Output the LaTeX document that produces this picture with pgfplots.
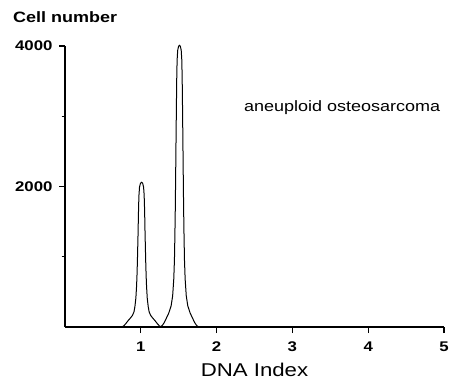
\documentclass[border=0pt]{standalone}
\usepackage{pgfplots}
\pgfplotsset{compat=1.18}
\usepackage{fontspec}
\setmainfont{Liberation Sans}[FakeStretch=1.2]

\begin{document}
\begin{tikzpicture}[x=1pt,y=1pt]
\useasboundingbox (0,0) rectangle (450,381);
\node[anchor=base west, inner sep=0pt, font=\bfseries\fontsize{15}{15}\selectfont] at (13,358) {Cell number};
\begin{axis}[
  at={(65pt,54pt)}, anchor=south west,
  scale only axis, width=379pt, height=281pt,
  xmin=0, xmax=5, ymin=0, ymax=4000,
  clip=false,
  axis x line=bottom, axis y line=left,
  axis line style={-, line width=1.8pt},
  xtick={1,2,3,4,5},
  xticklabels={1,2,3,4,5},
  ytick={2000,4000},
  yticklabels={2000,4000},
  minor ytick={1000,3000},
  tick align=outside,
  major tick length=6pt, minor tick length=3.5pt,
  tick style={line width=1.2pt, black},
  xticklabel style={yshift=-5pt, font=\bfseries\fontsize{14}{14}\selectfont},
  yticklabel style={xshift=-3pt, font=\bfseries\fontsize{14}{14}\selectfont},
  xlabel={DNA Index},
  xlabel style={at={(rel axis cs:0.5,0)}, anchor=base, yshift=-49pt, font=\fontsize{18.5}{18.5}\selectfont},
]
\addplot[black, line width=1pt] coordinates {
(0.75,0) (0.775,16) (0.80,45) (0.83,87) (0.86,124) (0.89,165) (0.91,216) (0.922,288)
(0.935,412) (0.944,577) (0.95,742) (0.955,927) (0.96,1154) (0.964,1339) (0.968,1566)
(0.972,1751) (0.976,1880) (0.983,1990) (0.995,2045) (1.01,2060) (1.025,2045) (1.037,1990)
(1.044,1880) (1.048,1751) (1.052,1566) (1.056,1339) (1.06,1154) (1.065,927) (1.07,742)
(1.076,577) (1.085,412) (1.098,288) (1.11,216) (1.13,165) (1.16,124) (1.19,87)
(1.22,45) (1.245,16) (1.27,0)
};
\addplot[black, line width=1pt] coordinates {
(1.26,0) (1.285,24) (1.31,64) (1.34,132) (1.37,201) (1.40,301) (1.42,441) (1.435,682)
(1.444,962) (1.45,1323) (1.455,1684) (1.46,2165) (1.465,2687) (1.47,3168) (1.474,3529)
(1.479,3800) (1.487,3940) (1.498,3995) (1.51,4010) (1.522,3995) (1.533,3940) (1.541,3800)
(1.546,3529) (1.55,3168) (1.555,2687) (1.56,2165) (1.565,1684) (1.57,1323) (1.576,962)
(1.585,682) (1.60,441) (1.62,301) (1.65,201) (1.68,132) (1.71,64) (1.735,24) (1.76,0)
};
\node[anchor=base west, inner sep=0pt, font=\fontsize{15}{15}\selectfont] at (axis cs:2.36,3064) {aneuploid osteosarcoma};
\end{axis}
\end{tikzpicture}
\end{document}
